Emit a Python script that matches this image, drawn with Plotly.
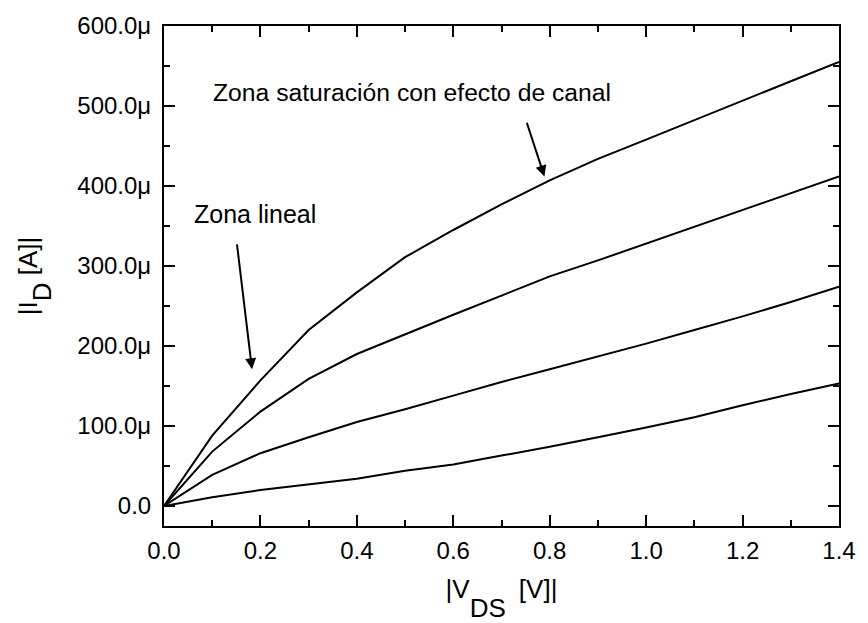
import plotly.graph_objects as go

# Drain voltage sweep |V_DS| in volts
vds = [0.0, 0.1, 0.2, 0.3, 0.4, 0.5, 0.6, 0.7, 0.8, 0.9, 1.0, 1.1, 1.2, 1.3, 1.4]

# Drain current |I_D| in microamps, one list per gate bias
id_curve1 = [0, 88, 157, 220, 267, 311, 345, 377, 407, 434, 458, 482, 506, 531, 555]
id_curve2 = [0, 68, 118, 159, 190, 215, 239, 263, 287, 307, 328, 349, 370, 391, 412]
id_curve3 = [0, 39, 66, 86, 105, 121, 138, 155, 171, 187, 203, 220, 237, 255, 274]
id_curve4 = [0, 11, 20, 27, 34, 44, 52, 63, 74, 86, 98, 111, 126, 140, 153]

y_tick_vals_u = [0, 100, 200, 300, 400, 500, 600]
y_tick_text = ["0.0", "100.0\u03bc", "200.0\u03bc", "300.0\u03bc", "400.0\u03bc", "500.0\u03bc", "600.0\u03bc"]
x_tick_vals = [0.0, 0.2, 0.4, 0.6, 0.8, 1.0, 1.2, 1.4]

U = 1e-6
FONT = "Liberation Sans, Arial, sans-serif"
TITLE_SIZE = 26


def deep_sub(s, drop_px):
    # full-size subscript dropped well below the baseline (two nested <sub> levels)
    outer = drop_px / 0.357
    return ("<span style='font-size:%.1fpx'><sub><sub><span style='font-size:%dpx'>%s</span>"
            "</sub></sub></span>" % (outer, TITLE_SIZE, s))


fig = go.Figure()
for curve in (id_curve1, id_curve2, id_curve3, id_curve4):
    fig.add_trace(go.Scatter(
        x=vds, y=[v * U for v in curve], mode="lines",
        line=dict(color="black", width=2), showlegend=False,
    ))

axis_common = dict(
    showline=True, linecolor="black", linewidth=2, mirror="ticks",
    ticks="inside", ticklen=11, tickwidth=2, tickcolor="black",
    showgrid=False, zeroline=False,
    tickfont=dict(family=FONT, size=24, color="black"),
)

fig.update_xaxes(
    range=[0, 1.4], tickvals=x_tick_vals, tickformat=".1f",
    minor=dict(ticks="inside", ticklen=6, tickwidth=2, tickcolor="black", dtick=0.1, tick0=0),
    title=dict(text="|V" + deep_sub("DS", 19) + "\u2002[V]|",
               font=dict(family=FONT, size=TITLE_SIZE, color="black"), standoff=19),
    ticklabelstandoff=2,
    **axis_common,
)
fig.update_yaxes(
    range=[-25 * U, 600 * U],
    tickvals=[v * U for v in y_tick_vals_u], ticktext=y_tick_text,
    minor=dict(ticks="inside", ticklen=6, tickwidth=2, tickcolor="black", dtick=50 * U, tick0=0),
    title=dict(text="|I" + deep_sub("D", 14) + " [A]|",
               font=dict(family=FONT, size=TITLE_SIZE, color="black"), standoff=32),
    ticklabelstandoff=6,
    **axis_common,
)

# Region labels with pointer arrows
fig.add_annotation(
    x=0.1825, y=171 * U, ax=0.151, ay=329 * U, axref="x", ayref="y",
    text="", showarrow=True, arrowhead=2, arrowsize=1.1, arrowwidth=2, arrowcolor="black",
)
fig.add_annotation(
    x=0.789, y=412 * U, ax=0.7515, ay=481 * U, axref="x", ayref="y",
    text="", showarrow=True, arrowhead=2, arrowsize=1.1, arrowwidth=2, arrowcolor="black",
)
fig.add_annotation(
    x=0.188, y=365 * U, text="Zona lineal", showarrow=False,
    font=dict(family=FONT, size=25, color="black"),
)
fig.add_annotation(
    x=0.515, y=517 * U, text="Zona saturaci\u00f3n con efecto de canal", showarrow=False,
    font=dict(family=FONT, size=24.7, color="black"),
)

fig.update_layout(
    width=868, height=623,
    margin=dict(l=164, r=19, t=20, b=97),
    paper_bgcolor="white", plot_bgcolor="white",
    font=dict(family=FONT, color="black"),
)

fig.write_html("out.html")
